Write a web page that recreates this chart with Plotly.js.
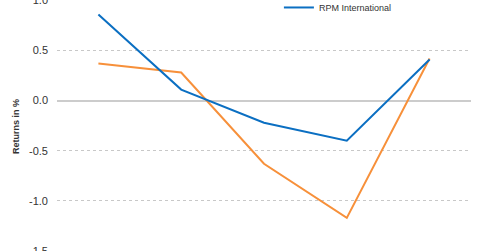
<!DOCTYPE html>
<html>
<head>
<meta charset="utf-8">
<script src="https://cdn.plot.ly/plotly-3.0.1.min.js"></script>
<style>html,body{margin:0;padding:0;background:#fff;}#chart{width:480px;height:251px;}</style>
</head>
<body>
<div id="chart"></div>
<script>
var categories = ['P1', 'P2', 'P3', 'P4', 'P5'];
var rpmReturns = [0.86, 0.11, -0.22, -0.40, 0.41];
var peerReturns = [0.37, 0.28, -0.63, -1.17, 0.42];
var yTicks = [-1.5, -1.0, -0.5, 0.0, 0.5, 1.0];
var yTickLabels = ['-1.5', '-1.0', '-0.5', '0.0', '0.5', '1.0'];

var traces = [
  {
    x: categories, y: peerReturns, type: 'scatter', mode: 'lines',
    name: 'Peer', showlegend: false,
    line: {color: '#F7903A', width: 2}
  },
  {
    x: categories, y: rpmReturns, type: 'scatter', mode: 'lines',
    name: 'RPM International',
    line: {color: '#0B6FC2', width: 2}
  }
];

var layout = {
  width: 480, height: 251,
  margin: {l: 57, r: 9, t: 0, b: 0, pad: 0, autoexpand: false},
  paper_bgcolor: '#fff', plot_bgcolor: '#fff',
  font: {family: 'Liberation Sans, Arial, sans-serif', color: '#333'},
  showlegend: true,
  legend: {
    x: 0.536, y: 1.028, xanchor: 'left', yanchor: 'top',
    bgcolor: 'rgba(0,0,0,0)', font: {size: 9, color: '#333'},
    itemwidth: 30, tracegroupgap: 0
  },
  xaxis: {
    type: 'category', range: [-0.5, 4.5], automargin: false,
    showgrid: false, zeroline: false, showline: false,
    showticklabels: false, ticks: ''
  },
  yaxis: {
    range: [-1.5, 1.004], automargin: false,
    tickvals: yTicks, ticktext: yTickLabels,
    tickfont: {size: 11, color: '#333'},
    ticklabeloverflow: 'allow',
    showgrid: true, gridcolor: '#c8c8c8', griddash: 'dot', gridwidth: 1,
    zeroline: true, zerolinecolor: '#cccccc', zerolinewidth: 2,
    showline: false, ticks: '', ticklabelstandoff: 8
  },
  annotations: [{
    text: '<b>Returns in %</b>', textangle: -90,
    xref: 'paper', yref: 'paper',
    x: (16 - 57) / 414, y: 1 - 127 / 251,
    xanchor: 'center', yanchor: 'middle', showarrow: false,
    font: {size: 9, color: '#333'}
  }]
};

Plotly.newPlot('chart', traces, layout, {displayModeBar: false, staticPlot: true});
</script>
</body>
</html>
